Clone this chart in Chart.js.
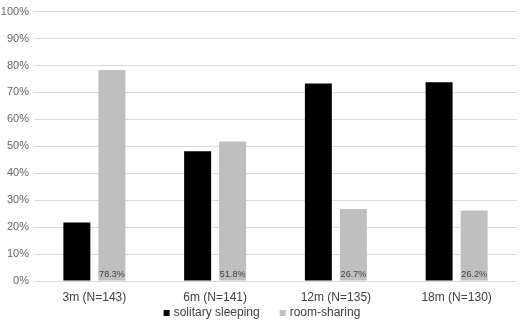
<!DOCTYPE html>
<html>
<head>
<meta charset="utf-8">
<script src="https://cdn.jsdelivr.net/npm/chart.js@4"></script>
<style>
  html, body { margin: 0; padding: 0; background: #fff; }
  #chart { display: block; }
</style>
</head>
<body>
<canvas id="chart" width="520" height="323"></canvas>
<script>
// data
const categories = ['3m (N=143)', '6m (N=141)', '12m (N=135)', '18m (N=130)'];
const solitary   = [21.7, 48.2, 73.3, 73.8];
const roomShare  = [78.3, 51.8, 26.7, 26.2];
const yTicks     = [0, 10, 20, 30, 40, 50, 60, 70, 80, 90, 100];

const FONT = '"Liberation Sans", "DejaVu Sans", sans-serif';

// value labels sit at the foot of the grey bars
const barLabels = {
  id: 'barLabels',
  afterDatasetsDraw(chart) {
    const ctx = chart.ctx;
    const meta = chart.getDatasetMeta(1);
    ctx.save();
    ctx.font = '9px ' + FONT;
    ctx.fillStyle = '#404040';
    ctx.textAlign = 'center';
    ctx.textBaseline = 'bottom';
    meta.data.forEach((bar, i) => {
      ctx.fillText(roomShare[i].toFixed(1) + '%', bar.x, bar.base - 1);
    });
    ctx.restore();
  },
};

// small legend drawn under the axis labels (built-in one pads too much)
const bottomLegend = {
  id: 'bottomLegend',
  afterDraw(chart) {
    const ctx = chart.ctx;
    const sets = chart.data.datasets;
    const box = 6, gap = 4, itemGap = 20, y = 313;
    ctx.save();
    ctx.font = '12px ' + FONT;
    const widths = sets.map((ds) => box + gap + ctx.measureText(ds.label).width);
    const total = widths.reduce((a, b) => a + b, 0) + itemGap * (sets.length - 1);
    let x = (chart.width - total) / 2 + 2;
    ctx.textBaseline = 'middle';
    sets.forEach((ds, i) => {
      ctx.fillStyle = ds.backgroundColor;
      ctx.fillRect(x, y - box / 2, box, box);
      ctx.fillStyle = '#404040';
      ctx.fillText(ds.label, x + box + gap, y);
      x += widths[i] + itemGap;
    });
    ctx.restore();
  },
};

new Chart(document.getElementById('chart'), {
  type: 'bar',
  data: {
    labels: categories,
    datasets: [
      { label: 'solitary sleeping', data: solitary, backgroundColor: '#000000' },
      { label: 'room-sharing', data: roomShare, backgroundColor: '#bfbfbf' },
    ],
  },
  options: {
    responsive: false,
    animation: false,
    layout: { autoPadding: false, padding: { top: 7, right: 3, left: 0, bottom: 19 } },
    datasets: { bar: { categoryPercentage: 0.58, barPercentage: 0.77 } },
    scales: {
      x: {
        grid: { display: false, drawTicks: false, tickLength: 0 },
        border: { display: false },
        afterFit(scale) { scale.height = 23; },
        ticks: { color: '#404040', font: { family: FONT, size: 12 }, padding: 9 },
      },
      y: {
        min: 0, max: 100,
        afterBuildTicks(scale) { scale.ticks = yTicks.map((v) => ({ value: v })); },
        afterFit(scale) { scale.width = 34; },
        grid: { color: '#d9d9d9', drawTicks: false },
        border: { display: false },
        ticks: { color: '#666666', font: { family: FONT, size: 11 }, padding: 5, callback: (v) => v + '%' },
      },
    },
    plugins: {
      legend: { display: false },
      tooltip: { enabled: false },
    },
  },
  plugins: [barLabels, bottomLegend],
});
</script>
</body>
</html>
